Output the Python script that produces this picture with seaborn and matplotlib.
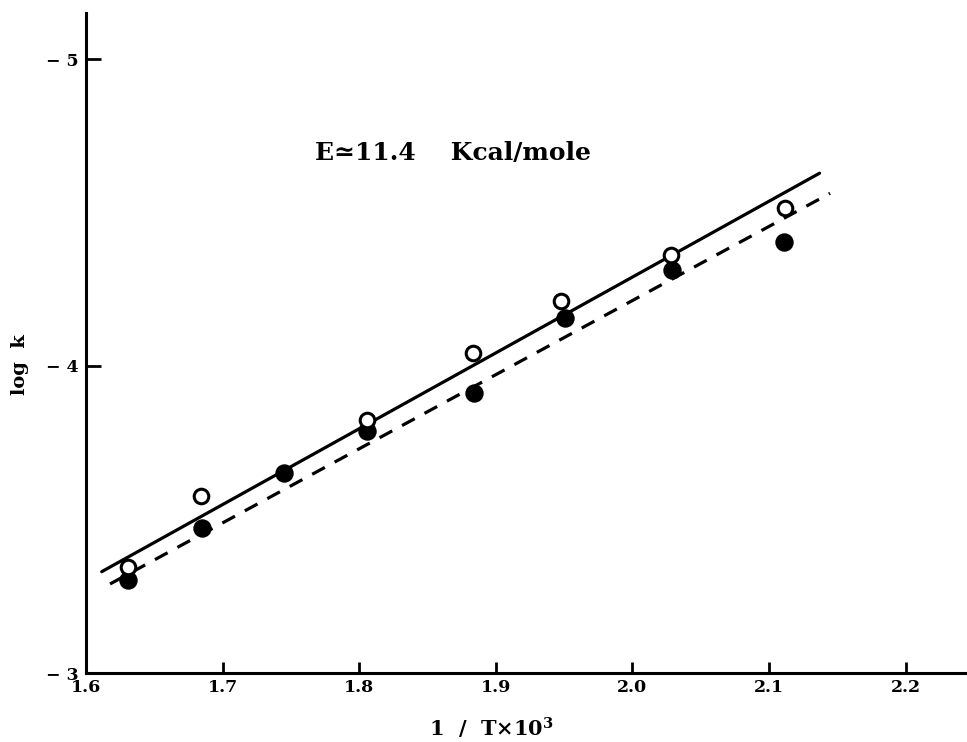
import matplotlib
matplotlib.use("Agg")
import matplotlib.pyplot as plt
import seaborn as sns
import pandas as pd

# ---- data ----
x_open = [1.631, 1.684, 1.806, 1.883, 1.948, 2.028, 2.112]
logk_open = [-3.346, -3.577, -3.824, -4.043, -4.213, -4.362, -4.515]

x_filled = [1.631, 1.685, 1.745, 1.806, 1.884, 1.951, 2.029, 2.111]
logk_filled = [-3.303, -3.472, -3.651, -3.788, -3.912, -4.156, -4.313, -4.404]

# fitted lines (end points)
x_fit_solid = [1.6115, 2.137]
logk_fit_solid = [-3.330, -4.628]
x_fit_dashed = [1.6176, 2.1447]
logk_fit_dashed = [-3.290, -4.5625]

xticks = [1.6, 1.7, 1.8, 1.9, 2.0, 2.1, 2.2]
xtick_labels = ["1.6", "1.7", "1.8", "1.9", "2.0", "2.1", "2.2"]
yticks = [-5, -4, -3]
ytick_labels = ["\u2212 5", "\u2212 4", "\u2212 3"]

annotation = "E\u224311.4    Kcal/mole"
xlabel = "1  /  T\u00d710$^{3}$"
ylabel = "log  k"

# ---- plotting ----
sns.set_style("ticks")
plt.rcParams["font.family"] = ["DejaVu Serif", "DejaVu Sans"]
plt.rcParams["mathtext.fontset"] = "custom"
plt.rcParams["mathtext.rm"] = "DejaVu Serif:bold"
plt.rcParams["mathtext.it"] = "DejaVu Serif:bold"
plt.rcParams["text.color"] = "black"
plt.rcParams["axes.edgecolor"] = "black"
plt.rcParams["xtick.color"] = "black"
plt.rcParams["ytick.color"] = "black"

fig = plt.figure(figsize=(9.67, 7.42), dpi=100)
ax = fig.add_axes([86 / 967, (742 - 673) / 742, (967 - 86) / 967, (673 - 13) / 742])

df_solid = pd.DataFrame({"x": x_fit_solid, "y": logk_fit_solid})
df_dash = pd.DataFrame({"x": x_fit_dashed, "y": logk_fit_dashed})
sns.lineplot(data=df_solid, x="x", y="y", ax=ax, color="black", lw=2.3,
             solid_capstyle="round", zorder=2)
sns.lineplot(data=df_dash, x="x", y="y", ax=ax, color="black", lw=2.3,
             linestyle=(0, (4.5, 3.5)), zorder=2)

df_open = pd.DataFrame({"x": x_open, "y": logk_open})
df_filled = pd.DataFrame({"x": x_filled, "y": logk_filled})
sns.scatterplot(data=df_filled, x="x", y="y", ax=ax, s=150, color="black",
                edgecolor="black", linewidth=1, zorder=3)
sns.scatterplot(data=df_open, x="x", y="y", ax=ax, s=110, facecolor="white",
                edgecolor="black", linewidth=2.2, zorder=4)

ax.set_xlim(1.6, 1.6 + (967 - 86) / 1366)
ax.set_ylim(-3, -5 - (59 - 13) / 307)

ax.set_xticks(xticks)
ax.set_xticklabels(xtick_labels, fontsize=12.5, fontweight="bold")
ax.set_yticks(yticks)
ax.set_yticklabels(ytick_labels, fontsize=12.5, fontweight="bold")

ax.tick_params(axis="x", direction="in", length=8, width=2, pad=4)
ax.tick_params(axis="y", direction="in", length=11, width=2, pad=5)

sns.despine(ax=ax, top=True, right=True)
for side in ("left", "bottom"):
    ax.spines[side].set_linewidth(2.2)

ax.set_xlabel("")
ax.set_ylabel("")
fig.text(491 / 967, 1 - 728 / 742, xlabel, ha="center", va="center",
         fontsize=15, fontweight="bold")
fig.text(20 / 967, 1 - 365 / 742, ylabel, ha="center", va="center",
         rotation=90, fontsize=14, fontweight="bold")
fig.text(315 / 967, 1 - 153 / 742, annotation, ha="left", va="center",
         fontsize=18, fontweight="bold")

fig.savefig("out.png", dpi=100)
